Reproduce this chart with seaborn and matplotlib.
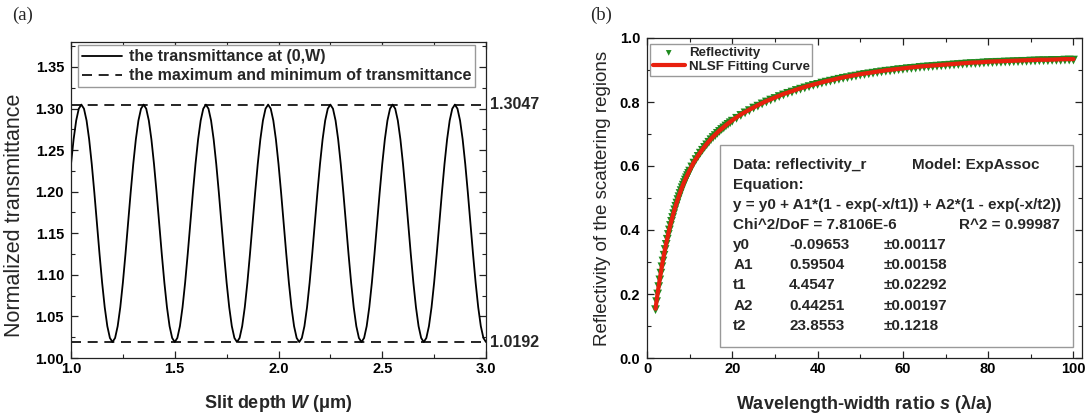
import numpy as np
import pandas as pd
import matplotlib
matplotlib.use("Agg")
import matplotlib.pyplot as plt
import matplotlib.transforms as mtransforms
from matplotlib.patches import Rectangle
from matplotlib.ticker import MultipleLocator, FormatStrFormatter
import seaborn as sns

# ---------------- data: panel (a) ----------------
slit_depth = np.linspace(1.0, 3.0, 161)          # sampling grid of W (um)
transmittance = [
    1.2333, 1.2629, 1.2856, 1.2998, 1.3047, 1.2998, 1.2856, 1.2629, 1.2333, 1.1989, 1.1620, 1.1250,
    1.0906, 1.0610, 1.0383, 1.0241, 1.0192, 1.0241, 1.0383, 1.0610, 1.0906, 1.1250, 1.1620, 1.1989,
    1.2333, 1.2629, 1.2856, 1.2998, 1.3047, 1.2998, 1.2856, 1.2629, 1.2333, 1.1989, 1.1620, 1.1250,
    1.0906, 1.0610, 1.0383, 1.0241, 1.0192, 1.0241, 1.0383, 1.0610, 1.0906, 1.1250, 1.1620, 1.1989,
    1.2333, 1.2629, 1.2856, 1.2998, 1.3047, 1.2998, 1.2856, 1.2629, 1.2333, 1.1989, 1.1620, 1.1250,
    1.0906, 1.0610, 1.0383, 1.0241, 1.0192, 1.0241, 1.0383, 1.0610, 1.0906, 1.1250, 1.1620, 1.1989,
    1.2333, 1.2629, 1.2856, 1.2998, 1.3047, 1.2998, 1.2856, 1.2629, 1.2333, 1.1989, 1.1620, 1.1250,
    1.0906, 1.0610, 1.0383, 1.0241, 1.0192, 1.0241, 1.0383, 1.0610, 1.0906, 1.1250, 1.1620, 1.1989,
    1.2333, 1.2629, 1.2856, 1.2998, 1.3047, 1.2998, 1.2856, 1.2629, 1.2333, 1.1989, 1.1620, 1.1250,
    1.0906, 1.0610, 1.0383, 1.0241, 1.0192, 1.0241, 1.0383, 1.0610, 1.0906, 1.1250, 1.1620, 1.1989,
    1.2333, 1.2629, 1.2856, 1.2998, 1.3047, 1.2998, 1.2856, 1.2629, 1.2333, 1.1989, 1.1620, 1.1250,
    1.0906, 1.0610, 1.0383, 1.0241, 1.0192, 1.0241, 1.0383, 1.0610, 1.0906, 1.1250, 1.1620, 1.1989,
    1.2333, 1.2629, 1.2856, 1.2998, 1.3047, 1.2998, 1.2856, 1.2629, 1.2333, 1.1989, 1.1620, 1.1250,
    1.0906, 1.0610, 1.0383, 1.0241, 1.0192,
]
extrema_values = [1.3047, 1.0192]
extrema_labels = ["1.3047", "1.0192"]

# ---------------- data: panel (b) ----------------
# measured reflectivity points
ratio_s = [2, 2.25, 2.5, 2.75, 3, 3.25, 3.5, 3.75, 4, 4.25, 4.5, 4.75, 5, 5.25, 5.5, 5.75,
           6, 6.25, 6.5, 6.75, 7, 7.25, 7.5, 7.75, 8, 8.25, 8.5, 8.75, 9, 9.25, 9.5, 9.75, 10,
           10.5, 11, 11.5, 12, 12.5, 13, 13.5, 14, 14.5, 15, 15.5, 16, 16.5, 17, 17.5, 18, 18.5,
           19, 19.5, 20,
           21, 22, 23, 24, 25, 26, 27, 28, 29, 30, 31, 32, 33, 34, 35, 36, 37, 38, 39, 40,
           41, 42, 43, 44, 45, 46, 47, 48, 49, 50, 51, 52, 53, 54, 55, 56, 57, 58, 59, 60,
           61, 62, 63, 64, 65, 66, 67, 68, 69, 70, 71, 72, 73, 74, 75, 76, 77, 78, 79, 80,
           81, 82, 83, 84, 85, 86, 87, 88, 89, 90, 91, 92, 93, 94, 95, 96, 97, 98, 99, 100]
reflectivity = [0.151, 0.176, 0.200, 0.223, 0.244, 0.265, 0.285, 0.303, 0.321, 0.339, 0.355, 0.371,
                0.386, 0.400, 0.414, 0.427, 0.439, 0.451, 0.463, 0.474, 0.484, 0.495, 0.504, 0.514,
                0.523, 0.532, 0.540, 0.548, 0.556, 0.563, 0.570, 0.577, 0.584,
                0.597, 0.609, 0.620, 0.630, 0.640, 0.649, 0.658, 0.666, 0.674, 0.682, 0.689, 0.695,
                0.702, 0.708, 0.714, 0.719, 0.725, 0.730, 0.735, 0.740,
                0.749, 0.758, 0.766, 0.773, 0.781, 0.787, 0.794, 0.800, 0.806, 0.811,
                0.817, 0.822, 0.827, 0.831, 0.836, 0.840, 0.844, 0.848, 0.852, 0.855,
                0.859, 0.862, 0.865, 0.868, 0.871, 0.874, 0.876, 0.879, 0.881, 0.884,
                0.886, 0.888, 0.890, 0.892, 0.894, 0.896, 0.897, 0.899, 0.901, 0.902,
                0.904, 0.905, 0.906, 0.908, 0.909, 0.910, 0.911, 0.912, 0.913, 0.914,
                0.915, 0.916, 0.917, 0.918, 0.919, 0.920, 0.920, 0.921, 0.922, 0.923,
                0.923, 0.924, 0.924, 0.925, 0.925, 0.926, 0.926, 0.927, 0.927, 0.928,
                0.928, 0.929, 0.929, 0.929, 0.930, 0.930, 0.930, 0.931, 0.931, 0.931]
# NLSF fitting curve
fit_s = [2, 2.25, 2.5, 2.75, 3, 3.25, 3.5, 3.75, 4, 4.5, 5, 5.5, 6, 6.5, 7, 7.5, 8, 8.5, 9, 9.5, 10,
         11, 12, 13, 14, 15, 16, 17, 18, 19, 20,
         22, 24, 26, 28, 30, 32, 34, 36, 38, 40, 42, 44, 46, 48, 50, 52, 54, 56, 58, 60,
         62, 64, 66, 68, 70, 72, 74, 76, 78, 80, 82, 84, 86, 88, 90, 92, 94, 96, 98, 100]
fit_curve = [0.154, 0.179, 0.203, 0.226, 0.247, 0.268, 0.288, 0.306, 0.324, 0.358, 0.389, 0.417,
             0.442, 0.466, 0.487, 0.507, 0.526, 0.543, 0.559, 0.573, 0.587,
             0.612, 0.633, 0.652, 0.669, 0.685, 0.698, 0.711, 0.722, 0.733, 0.743,
             0.761, 0.776, 0.790, 0.803, 0.814, 0.825, 0.834, 0.843, 0.851, 0.858, 0.865, 0.871,
             0.877, 0.882, 0.887, 0.891, 0.895, 0.899, 0.902, 0.905,
             0.908, 0.911, 0.913, 0.915, 0.917, 0.919, 0.921, 0.923, 0.924, 0.926, 0.927, 0.928,
             0.929, 0.930, 0.931, 0.932, 0.932, 0.933, 0.934, 0.934]

param_names = ["y0", "A1", "t1", "A2", "t2"]
param_values = ["-0.09653", "0.59504", "4.4547", "0.44251", "23.8553"]
param_errors = ["0.00117", "0.00158", "0.02292", "0.00197", "0.1218"]

# ---------------- style ----------------
sns.set_style("ticks")
plt.rcParams["font.family"] = ["Liberation Sans", "DejaVu Sans"]
plt.rcParams["mathtext.fontset"] = "custom"
plt.rcParams["mathtext.rm"] = "Liberation Sans"
plt.rcParams["mathtext.it"] = "Liberation Sans:italic"
plt.rcParams["mathtext.bf"] = "Liberation Sans:bold"
plt.rcParams["mathtext.bfit"] = "Liberation Sans:italic:bold"
plt.rcParams["axes.edgecolor"] = "#222222"
plt.rcParams["axes.linewidth"] = 0.9

green = "#1e8a1e"
red = "#e8200e"

fig = plt.figure(figsize=(10.9, 4.17), dpi=100)
ax1 = fig.add_axes([71 / 1090, 1 - 358 / 417, 415 / 1090, 316 / 417])
ax2 = fig.add_axes([647 / 1090, 1 - 358 / 417, 435 / 1090, 320 / 417])

def style_ticks(ax):
    ax.tick_params(which="both", direction="in", top=True, right=True, colors="#222222")
    ax.tick_params(which="major", length=5, width=0.9, labelsize=10.5, pad=3)
    ax.tick_params(which="minor", length=2.8, width=0.8)
    ax.tick_params(axis="y", which="major", pad=5)
    for lab in ax.get_xticklabels() + ax.get_yticklabels():
        lab.set_fontweight("bold")
        lab.set_color("black")

# ---------------- panel (a) ----------------
df_a = pd.DataFrame({"W": slit_depth, "T": transmittance})
sns.lineplot(data=df_a, x="W", y="T", ax=ax1, color="black", lw=1.3,
             label="the transmittance at (0,W)")
for i, v in enumerate(extrema_values):
    ax1.axhline(v, color="black", lw=1.2, ls=(0, (6, 4)),
                label="the maximum and minimum of transmittance" if i == 0 else None)
ax1.set_xlim(1.0, 3.0)
ax1.set_ylim(1.0, 1.38)
ax1.xaxis.set_major_locator(MultipleLocator(0.5))
ax1.xaxis.set_minor_locator(MultipleLocator(0.25))
ax1.yaxis.set_major_locator(MultipleLocator(0.05))
ax1.yaxis.set_minor_locator(MultipleLocator(0.025))
ax1.xaxis.set_major_formatter(FormatStrFormatter("%.1f"))
ax1.yaxis.set_major_formatter(FormatStrFormatter("%.2f"))
style_ticks(ax1)
ax1.set_xlabel(r"Slit depth $\mathbfit{W}$ (μm)", fontsize=13, fontweight="bold", labelpad=12)
ax1.set_ylabel("Normalized transmittance", fontsize=15.5)
ax1.yaxis.set_label_coords(-0.11, 0.45)
trans = mtransforms.blended_transform_factory(ax1.transAxes, ax1.transData)
for v, t in zip(extrema_values, extrema_labels):
    ax1.text(1.01, v, t, transform=trans, ha="left", va="center",
             fontsize=11.5, fontweight="bold", clip_on=False)
leg1 = ax1.legend(loc="upper left", bbox_to_anchor=(0.018, 0.99), frameon=True, fancybox=False,
                  edgecolor="#999999", framealpha=1, borderpad=0.25, labelspacing=0.25,
                  handlelength=2.5, handletextpad=0.4, borderaxespad=0,
                  prop={"weight": "bold", "size": 11.5})
leg1.get_frame().set_linewidth(1.0)

# ---------------- panel (b) ----------------
df_data = pd.DataFrame({"s": ratio_s, "R": reflectivity})
df_fit = pd.DataFrame({"s": fit_s, "fit": fit_curve})
sns.scatterplot(data=df_data, x="s", y="R", ax=ax2, marker="v", color=green, s=40,
                edgecolor="none", label="Reflectivity", zorder=2)
sns.lineplot(data=df_fit, x="s", y="fit", ax=ax2, color=red, lw=3, label="NLSF Fitting Curve",
             zorder=3)
ax2.set_xlim(0, 102)
ax2.set_ylim(0, 1.0)
ax2.xaxis.set_major_locator(MultipleLocator(20))
ax2.xaxis.set_minor_locator(MultipleLocator(10))
ax2.yaxis.set_major_locator(MultipleLocator(0.2))
ax2.yaxis.set_minor_locator(MultipleLocator(0.1))
ax2.yaxis.set_major_formatter(FormatStrFormatter("%.1f"))
style_ticks(ax2)
ax2.set_xlabel(r"Wavelength-width ratio $\mathbfit{s}$ (λ/a)", fontsize=13, fontweight="bold",
               labelpad=12)
ax2.set_ylabel("Reflectivity of the scattering regions", fontsize=13.5, labelpad=6)
leg2 = ax2.legend(loc="upper left", bbox_to_anchor=(0.007, 0.98), frameon=True, fancybox=False,
                  edgecolor="#999999", framealpha=1, borderpad=0.2, labelspacing=0.1,
                  handlelength=2.4, handletextpad=0.3, borderaxespad=0, markerscale=0.65,
                  prop={"weight": "bold", "size": 9.6})
leg2.get_frame().set_linewidth(1.0)

# fit result box
ax2.add_patch(Rectangle((17.1, 0.034), 82.7, 0.632, facecolor="white", edgecolor="#999999",
                        lw=1.0, zorder=4))
tk = dict(fontsize=11, fontweight="bold", va="center", ha="left", zorder=5)
ax2.text(20.2, 0.603, "Data: reflectivity_r", **tk)
ax2.text(62.2, 0.603, "Model: ExpAssoc", **tk)
ax2.text(20.2, 0.542, "Equation:", **tk)
ax2.text(20.2, 0.478, "y = y0 + A1*(1 - exp(-x/t1)) + A2*(1 - exp(-x/t2))", **tk)
ax2.text(20.2, 0.417, "Chi^2/DoF = 7.8106E-6", **tk)
ax2.text(73.2, 0.417, "R^2 = 0.99987", **tk)
rows_y = [0.354, 0.291, 0.228, 0.164, 0.100]
for name, val, err, yy in zip(param_names, param_values, param_errors, rows_y):
    ax2.text(20.2, yy, name, **tk)
    ax2.text(33.3, yy, val, **tk)
    ax2.text(55.4, yy, "±" + err, **tk)

# panel labels
fig.text(12 / 1090, 1 - 15 / 417, "(a)", fontsize=13.5, family="Liberation Serif",
         ha="left", va="center")
fig.text(590 / 1090, 1 - 15 / 417, "(b)", fontsize=13.5, family="Liberation Serif",
         ha="left", va="center")

fig.savefig("out.png", dpi=100)
